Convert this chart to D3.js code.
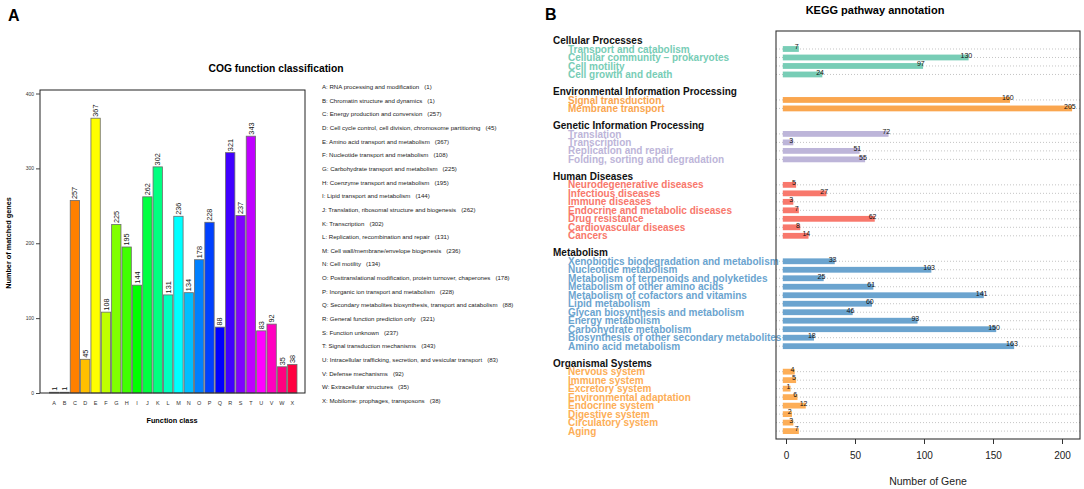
<!DOCTYPE html>
<html><head><meta charset="utf-8">
<script src="https://cdn.jsdelivr.net/npm/d3@7"></script>
<style>
html,body{margin:0;padding:0;background:#fff;}
svg text{font-family:"Liberation Sans",Arial,Helvetica,sans-serif;white-space:pre;}
</style></head>
<body>
<svg id="chart" width="1084" height="489"></svg>
<script>
// ---------- Panel A data (COG) ----------
const cogLetters = ["A","B","C","D","E","F","G","H","I","J","K","L","M","N","O","P","Q","R","S","T","U","V","W","X"];
const cogValues  = [1,1,257,45,367,108,225,195,144,262,302,131,236,134,178,228,88,321,237,343,83,92,35,38];
const cogNames = [
 "RNA processing and modification",
 "Chromatin structure and dynamics",
 "Energy production and conversion",
 "Cell cycle control, cell division, chromosome partitioning",
 "Amino acid transport and metabolism",
 "Nucleotide transport and metabolism",
 "Carbohydrate transport and metabolism",
 "Coenzyme transport and metabolism",
 "Lipid transport and metabolism",
 "Translation, ribosomal structure and biogenesis",
 "Transcription",
 "Replication, recombination and repair",
 "Cell wall/membrane/envelope biogenesis",
 "Cell motility",
 "Posttranslational modification, protein turnover, chaperones",
 "Inorganic ion transport and metabolism",
 "Secondary metabolites biosynthesis, transport and catabolism",
 "General function prediction only",
 "Function unknown",
 "Signal transduction mechanisms",
 "Intracellular trafficking, secretion, and vesicular transport",
 "Defense mechanisms",
 "Extracellular structures",
 "Mobilome: prophages, transposons"];
const cogTicks = [0,100,200,300,400];

// ---------- Panel B data (KEGG) ----------
const keggGroups = ["Cellular Processes","Environmental Information Processing","Genetic Information Processing","Human Diseases","Metabolism","Organismal Systems"];
const keggColors = ["#78CDB6","#FAA64F","#BDB5D9","#F8786C","#6BA4CF","#FDAE57"];
const cellularNames = ["Transport and catabolism","Cellular community \u2013 prokaryotes","Cell motility","Cell growth and death"];
const cellularValues = [7,130,97,24];
const envNames = ["Signal transduction","Membrane transport"];
const envValues = [160,205];
const geneticNames = ["Translation","Transcription","Replication and repair","Folding, sorting and degradation"];
const geneticValues = [72,3,51,55];
const humanNames = ["Neurodegenerative diseases","Infectious diseases","Immune diseases","Endocrine and metabolic diseases","Drug resistance","Cardiovascular diseases","Cancers"];
const humanValues = [5,27,3,7,62,8,14];
const metabolismNames = ["Xenobiotics biodegradation and metabolism","Nucleotide metabolism","Metabolism of terpenoids and polyketides","Metabolism of other amino acids","Metabolism of cofactors and vitamins","Lipid metabolism","Glycan biosynthesis and metabolism","Energy metabolism","Carbohydrate metabolism","Biosynthesis of other secondary metabolites","Amino acid metabolism"];
const metabolismValues = [33,103,25,61,141,60,46,93,150,18,163];
const organismalNames = ["Nervous system","Immune system","Excretory system","Environmental adaptation","Endocrine system","Digestive system","Circulatory system","Aging"];
const organismalValues = [4,5,1,6,12,2,3,7];
const keggTicks = [0,50,100,150,200];

const svg = d3.select("#chart");

// ================= Panel A =================
const A = {left:40, right:305, top:90, bottom:393};
svg.append("text").attr("x",8).attr("y",21).attr("font-size",16).attr("font-weight","bold").text("A");
svg.append("text").attr("x",276).attr("y",72).attr("text-anchor","middle").attr("font-size",10.3).attr("font-weight","bold").text("COG function classification");

const yA = d3.scaleLinear().domain([0,400]).range([A.bottom,93.5]);
const xA = d3.scaleBand().domain(cogLetters).range([49,297.5]).paddingInner(0.1).paddingOuter(0.05);
const rainbow = i => d3.hsl(360*i/cogLetters.length,1,0.5).formatHex();

const gA = svg.append("g");
gA.selectAll("rect.bar").data(cogLetters).join("rect")
  .attr("x",d=>xA(d)).attr("width",xA.bandwidth())
  .attr("y",(d,i)=>yA(cogValues[i])).attr("height",(d,i)=>A.bottom-yA(cogValues[i]))
  .attr("fill",(d,i)=>rainbow(i)).attr("stroke","#6a6a6a").attr("stroke-width",0.8);
gA.selectAll("text.val").data(cogLetters).join("text")
  .attr("transform",(d,i)=>`translate(${xA(d)+xA.bandwidth()/2+2.6},${yA(cogValues[i])-1.5}) rotate(-90)`)
  .attr("font-size",7.3).attr("fill","#111").text((d,i)=>cogValues[i]);
// box
gA.append("rect").attr("x",A.left).attr("y",A.top).attr("width",A.right-A.left).attr("height",A.bottom-A.top)
  .attr("fill","none").attr("stroke","#222").attr("stroke-width",1);
// y axis
const yAx = d3.axisLeft(yA).tickValues(cogTicks).tickSize(4).tickPadding(2);
const yAg = gA.append("g").attr("transform",`translate(${A.left},0)`).call(yAx);
yAg.select(".domain").remove();
yAg.selectAll("text").attr("font-size",5).attr("fill","#333").style("font-family","Liberation Sans, Arial");
yAg.selectAll("line").attr("stroke","#444");
// x letters
gA.selectAll("text.lab").data(cogLetters).join("text")
  .attr("x",d=>xA(d)+xA.bandwidth()/2).attr("y",405).attr("text-anchor","middle")
  .attr("font-size",5.5).attr("fill","#333").text(d=>d);
svg.append("text").attr("x",172).attr("y",423).attr("text-anchor","middle").attr("font-size",7.3).attr("font-weight","bold").text("Function class");
svg.append("text").attr("transform","translate(10.5,243) rotate(-90)").attr("text-anchor","middle").attr("font-size",7.3).attr("font-weight","bold").text("Number of matched genes");
// legend (clipped)
svg.append("clipPath").attr("id","clipA").append("rect").attr("x",0).attr("y",0).attr("width",546).attr("height",489);
const legA = svg.append("g").attr("clip-path","url(#clipA)");
legA.selectAll("text").data(cogLetters).join("text")
  .attr("x",322).attr("y",(d,i)=>89+i*13.65).attr("font-size",6.1).attr("fill","#222")
  .text((d,i)=>`${d}: ${cogNames[i]}   (${cogValues[i]})`);

// ================= Panel B =================
const B = {left:776, right:1080, top:31, bottom:439};
svg.append("text").attr("x",545).attr("y",20).attr("font-size",16).attr("font-weight","bold").text("B");
svg.append("text").attr("x",875).attr("y",14).attr("text-anchor","middle").attr("font-size",11).attr("font-weight","bold").text("KEGG pathway annotation");

const groupNames = [cellularNames,envNames,geneticNames,humanNames,metabolismNames,organismalNames];
const groupValues = [cellularValues,envValues,geneticValues,humanValues,metabolismValues,organismalValues];
// slots: header, items..., blank
const slots = [];
groupNames.forEach((names,g)=>{
  slots.push({type:"header",id:"h"+g,label:keggGroups[g]});
  names.forEach((n,i)=>slots.push({type:"item",id:"i"+g+"_"+i,label:n,value:groupValues[g][i],color:keggColors[g]}));
  if (g<groupNames.length-1) slots.push({type:"blank",id:"b"+g});
});
const yB = d3.scalePoint().domain(slots.map(s=>s.id)).range([40.5,431.1]);
const xB = d3.scaleLinear().domain([0,200]).range([786,1062]);
const items = slots.filter(s=>s.type==="item");
const headers = slots.filter(s=>s.type==="header");
const gB = svg.append("g");
// dotted guide lines
gB.selectAll("line.guide").data(items).join("line")
  .attr("x1",B.left).attr("x2",B.right).attr("y1",d=>yB(d.id)).attr("y2",d=>yB(d.id))
  .attr("stroke","#b5b5b5").attr("stroke-width",0.8).attr("stroke-dasharray","1,2");
// left labels
gB.selectAll("text.hdr").data(headers).join("text")
  .attr("x",553).attr("y",d=>yB(d.id)+3.6).attr("font-size",10).attr("font-weight","bold").attr("fill","#111").text(d=>d.label);
gB.selectAll("text.item").data(items).join("text")
  .attr("x",568).attr("y",d=>yB(d.id)+3.6).attr("font-size",10).attr("font-weight","bold").attr("fill",d=>d.color).text(d=>d.label);
// bars
const barH = 5.8, ext = 3.2;
gB.selectAll("rect.bar").data(items).join("rect")
  .attr("x",xB(0)-ext).attr("width",d=>xB(d.value)-xB(0)+2*ext)
  .attr("y",d=>yB(d.id)-barH/2).attr("height",barH).attr("fill",d=>d.color);
gB.selectAll("text.val").data(items).join("text")
  .attr("x",d=>xB(d.value)+1).attr("y",d=>yB(d.id)+0.3).attr("text-anchor","middle")
  .attr("font-size",7).attr("fill","#111").text(d=>d.value);
// box
gB.append("rect").attr("x",B.left).attr("y",B.top).attr("width",B.right-B.left).attr("height",B.bottom-B.top)
  .attr("fill","none").attr("stroke","#333").attr("stroke-width",1.1);
// x axis
const xBg = gB.append("g").attr("transform",`translate(0,${B.bottom})`)
  .call(d3.axisBottom(xB).tickValues(keggTicks).tickSize(5).tickPadding(8));
xBg.select(".domain").remove();
xBg.selectAll("text").attr("font-size",10).attr("fill","#222").style("font-family","Liberation Sans, Arial");
xBg.selectAll("line").attr("stroke","#333");
svg.append("text").attr("x",928).attr("y",485).attr("text-anchor","middle").attr("font-size",10.5).attr("fill","#222").text("Number of Gene");
</script>
</body></html>
